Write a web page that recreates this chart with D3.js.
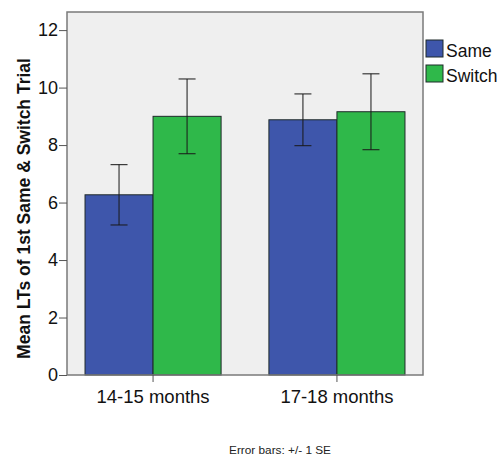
<!DOCTYPE html>
<html>
<head>
<meta charset="utf-8">
<script src="https://cdn.jsdelivr.net/npm/d3@7"></script>
<style>
  body { margin: 0; background: #fff; }
  text { font-family: "Liberation Sans", Arial, sans-serif; }
</style>
</head>
<body>
<div id="chart"></div>
<script>
const ageGroups = ["14-15 months", "17-18 months"];
const conditions = ["Same", "Switch"];
const sameMeans = [6.27, 8.88];
const switchMeans = [9.0, 9.16];
const sameSE = [1.05, 0.9];
const switchSE = [1.3, 1.32];
const yTicks = [0, 2, 4, 6, 8, 10, 12];

const colorMap = { Same: "#3e56ab", Switch: "#2fb84a" };

const rows = [];
ageGroups.forEach((age, i) => {
  rows.push({ age, cond: "Same", mean: sameMeans[i], se: sameSE[i] });
  rows.push({ age, cond: "Switch", mean: switchMeans[i], se: switchSE[i] });
});

const margin = { top: 12, right: 81, bottom: 82, left: 67 };
const width = 504 - margin.left - margin.right;
const height = 457 - margin.top - margin.bottom;

const svg = d3
  .select("#chart")
  .append("svg")
  .attr("width", 504)
  .attr("height", 457);

const g = svg
  .append("g")
  .attr("transform", "translate(" + margin.left + "," + margin.top + ")");

const x0 = d3.scaleBand().domain(ageGroups).range([0, width]).paddingInner(0.26).paddingOuter(0.098);
const x1 = d3.scaleBand().domain(conditions).range([0, x0.bandwidth()]);
const y = d3.scaleLinear().domain([0, 12.63]).range([height, 0]);

// plot background
g.append("rect")
  .attr("width", width)
  .attr("height", height)
  .attr("fill", "#efefef");

// bars
g.selectAll(".bar")
  .data(rows)
  .enter()
  .append("rect")
  .attr("class", "bar")
  .attr("x", (d) => x0(d.age) + x1(d.cond))
  .attr("width", x1.bandwidth())
  .attr("y", (d) => y(d.mean))
  .attr("height", (d) => height - y(d.mean))
  .attr("fill", (d) => colorMap[d.cond])
  .attr("stroke", "#1f2a2a")
  .attr("stroke-width", 1);

// error bars
const err = g.selectAll(".err").data(rows).enter().append("g").attr("class", "err")
  .attr("stroke", "#1a1a1a").attr("stroke-width", 1.2).attr("stroke-opacity", 0.85);
const cx = (d) => x0(d.age) + x1(d.cond) + x1.bandwidth() / 2;
err.append("line")
  .attr("x1", cx).attr("x2", cx)
  .attr("y1", (d) => y(d.mean + d.se))
  .attr("y2", (d) => y(d.mean - d.se));
err.append("line")
  .attr("x1", (d) => cx(d) - 8.5).attr("x2", (d) => cx(d) + 8.5)
  .attr("y1", (d) => y(d.mean + d.se)).attr("y2", (d) => y(d.mean + d.se));
err.append("line")
  .attr("x1", (d) => cx(d) - 8.5).attr("x2", (d) => cx(d) + 8.5)
  .attr("y1", (d) => y(d.mean - d.se)).attr("y2", (d) => y(d.mean - d.se));

// frame
g.append("rect")
  .attr("width", width)
  .attr("height", height)
  .attr("fill", "none")
  .attr("stroke", "#7a7a7a")
  .attr("stroke-width", 1.5);

// axes
const yAxis = g.append("g")
  .call(d3.axisLeft(y).tickValues(yTicks).tickSize(8).tickPadding(1));
yAxis.select(".domain").remove();
yAxis.selectAll("line").attr("stroke", "#555");
yAxis.selectAll("text").attr("font-size", 18).attr("fill", "#111")
  .style("font-family", "'Liberation Sans', Arial, sans-serif");

const xAxis = g.append("g")
  .attr("transform", "translate(0," + height + ")")
  .call(d3.axisBottom(x0).tickSize(7).tickPadding(8));
xAxis.select(".domain").remove();
xAxis.selectAll("line").attr("stroke", "#555");
xAxis.selectAll("text").attr("font-size", 18.5).attr("fill", "#111")
  .style("font-family", "'Liberation Sans', Arial, sans-serif");

// y label
svg.append("text")
  .attr("transform", "rotate(-90)")
  .attr("x", -208.5)
  .attr("y", 30)
  .attr("text-anchor", "middle")
  .attr("font-size", 17.5)
  .attr("font-weight", "bold")
  .attr("fill", "#111")
  .text("Mean LTs of 1st Same & Switch Trial");

// legend
const legend = svg.append("g").attr("transform", "translate(426,40)");
conditions.forEach((c, i) => {
  const row = legend.append("g").attr("transform", "translate(0," + i * 25 + ")");
  row.append("rect").attr("width", 17).attr("height", 17)
    .attr("fill", colorMap[c]).attr("stroke", "#1f2a2a");
  row.append("text").attr("x", 20).attr("y", 17).attr("font-size", 17.5)
    .attr("fill", "#111").text(c);
});

// footnote
svg.append("text")
  .attr("x", 280)
  .attr("y", 454)
  .attr("text-anchor", "middle")
  .attr("font-size", 11.8)
  .attr("fill", "#222")
  .text("Error bars: +/- 1 SE");
</script>
</body>
</html>
